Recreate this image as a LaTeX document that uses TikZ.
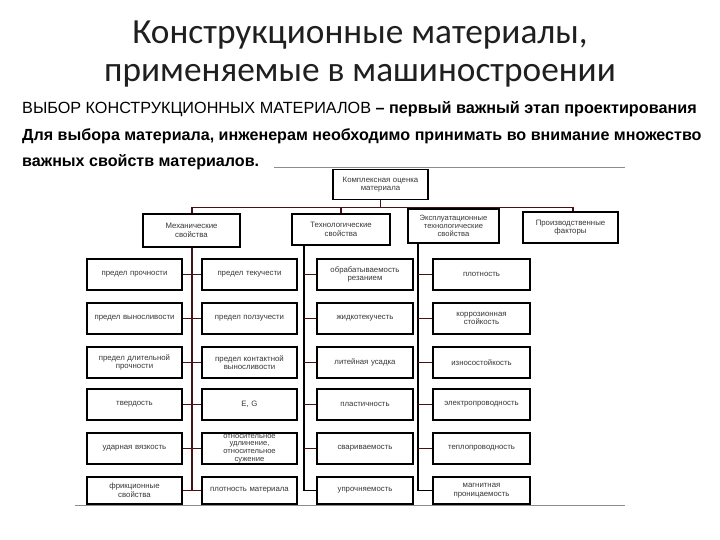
\documentclass[tikz,border=0pt]{standalone}
\usepackage{fontspec}
\setmainfont{Liberation Sans}
\newfontfamily\titlefont{Carlito}
\definecolor{conn}{RGB}{70,18,18}
\definecolor{boxtext}{RGB}{55,55,55}
\begin{document}
\begin{tikzpicture}[x=1pt,y=-1pt,
  box/.style={draw=black, line width=1.6pt, fill=white, inner sep=0pt, align=center,
    font=\fontsize{7.8}{8.6}\selectfont, text=boxtext},
  leaf/.style={box, minimum width=95pt, minimum height=31pt, text width=95pt},
  lastleaf/.style={leaf, minimum height=27pt},
  link/.style={draw=conn, line width=1.5pt},
  edge/.style={draw=black!45, line width=0.8pt}]
\useasboundingbox (0,0) rectangle (720,540);
% title
\node[anchor=base, inner sep=0, font=\titlefont\fontsize{35.3}{40}\selectfont, text=black!88] (t1) at (360,44) {Конструкционные материалы,};
\node[anchor=base, inner sep=0, font=\titlefont\fontsize{35.3}{40}\selectfont, text=black!88] (t2) at (360,82) {применяемые в машиностроении};
% header text
\node[anchor=base west, inner sep=0, font=\fontsize{16.2}{18}\selectfont] (h1) at (22,114) {ВЫБОР КОНСТРУКЦИОННЫХ МАТЕРИАЛОВ \textbf{– первый важный этап проектирования}};
\node[anchor=base west, inner sep=0, font=\bfseries\fontsize{16.1}{18}\selectfont] (h2) at (22,141) {Для выбора материала, инженерам необходимо принимать во внимание множество};
\node[anchor=base west, inner sep=0, font=\bfseries\fontsize{16.1}{18}\selectfont] (h3) at (22,167) {важных свойств материалов.};
% image edges
\coordinate (e1) at (274,167); \coordinate (e2) at (625,167);
\coordinate (e3) at (75,505); \coordinate (e4) at (625,505);
\draw[edge] (e1) -- (e2);
\draw[edge] (e3) -- (e4);
% top level
\node[box, minimum width=95pt, minimum height=30pt, text width=92pt] (top) at (380.5,184.5) {Комплексная оценка\\материала};
\node[box, minimum width=97pt, minimum height=33pt, text width=95pt] (mech) at (191.5,230.5) {Механические\\свойства};
\node[box, minimum width=98pt, minimum height=31pt, text width=96pt] (tech) at (341,229.5) {Технологические\\свойства};
\node[box, minimum width=91pt, minimum height=34pt, text width=91pt, font=\fontsize{7.6}{8.2}\selectfont] (expl) at (453.5,226) {Эксплуатационные\\технологические\\свойства};
\node[box, minimum width=95pt, minimum height=31pt, text width=93pt] (prod) at (570.5,227.5) {Производственные\\факторы};
% leaves column 1
\node[leaf] (a1) at (134.5,274.5) {предел прочности};
\node[leaf] (a2) at (134.5,318.5) {предел выносливости};
\node[leaf] (a3) at (134.5,362.5) {предел длительной\\прочности};
\node[leaf] (a4) at (134.5,404.5) {твердость};
\node[leaf] (a5) at (134.5,448.5) {ударная вязкость};
\node[lastleaf] (a6) at (134.5,490.5) {фрикционные\\свойства};
% column 2
\node[leaf] (b1) at (249.5,274.5) {предел текучести};
\node[leaf] (b2) at (249.5,318.5) {предел ползучести};
\node[leaf] (b3) at (249.5,362.5) {предел контактной\\выносливости};
\node[leaf] (b4) at (249.5,404.5) {E, G};
\node[leaf, font=\fontsize{7.6}{7.6}\selectfont] (b5) at (249.5,448.5) {относительное\\удлинение,\\относительное\\сужение};
\node[lastleaf] (b6) at (249.5,490.5) {плотность материала};
% column 3
\node[leaf, minimum width=96pt] (c1) at (365,274.5) {обрабатываемость\\резанием};
\node[leaf, minimum width=96pt] (c2) at (365,318.5) {жидкотекучесть};
\node[leaf, minimum width=96pt] (c3) at (365,362.5) {литейная усадка};
\node[leaf, minimum width=96pt] (c4) at (365,404.5) {пластичность};
\node[leaf, minimum width=96pt] (c5) at (365,448.5) {свариваемость};
\node[lastleaf, minimum width=96pt] (c6) at (365,490.5) {упрочняемость};
% column 4
\node[leaf, minimum width=97pt] (d1) at (481.5,274.5) {плотность};
\node[leaf, minimum width=97pt] (d2) at (481.5,318.5) {коррозионная\\стойкость};
\node[leaf, minimum width=97pt] (d3) at (481.5,362.5) {износостойкость};
\node[leaf, minimum width=97pt] (d4) at (481.5,404.5) {электропроводность};
\node[leaf, minimum width=97pt] (d5) at (481.5,448.5) {теплопроводность};
\node[lastleaf, minimum width=97pt] (d6) at (481.5,490.5) {магнитная\\проницаемость};
% bus
\coordinate (busL) at (192,207.5);
\coordinate (busR) at (573,207.5);
\coordinate (tv) at (304,245);
\coordinate (ev) at (418,243);
\draw[link] (top.south) -- (top.south |- busL);
\draw[link] (busL) -- (busR);
\draw[link] (busL) -- (busL |- mech.north);
\draw[link] (tech.north) -- (tech.north |- busL);
\draw[link] (busL -| 457,0) -- (expl.north -| 457,0);
\draw[link] (busR) -- (busR |- prod.north);
% mechanical
\draw[link] (busL |- mech.south) -- (busL |- a6.east);
\foreach \i in {1,...,6} { \draw[link] (a\i.east) -- (b\i.west); }
% technological
\draw[link, draw=black] (tv) -- (tv |- c6.west) -- (c6.west);
\foreach \i in {1,...,5} { \draw[link] (tv |- c\i.west) -- (c\i.west); }
% exploitation
\draw[link, draw=black] (ev) -- (ev |- d6.west) -- (d6.west);
\foreach \i in {1,...,5} { \draw[link] (ev |- d\i.west) -- (d\i.west); }
\end{tikzpicture}
\end{document}
